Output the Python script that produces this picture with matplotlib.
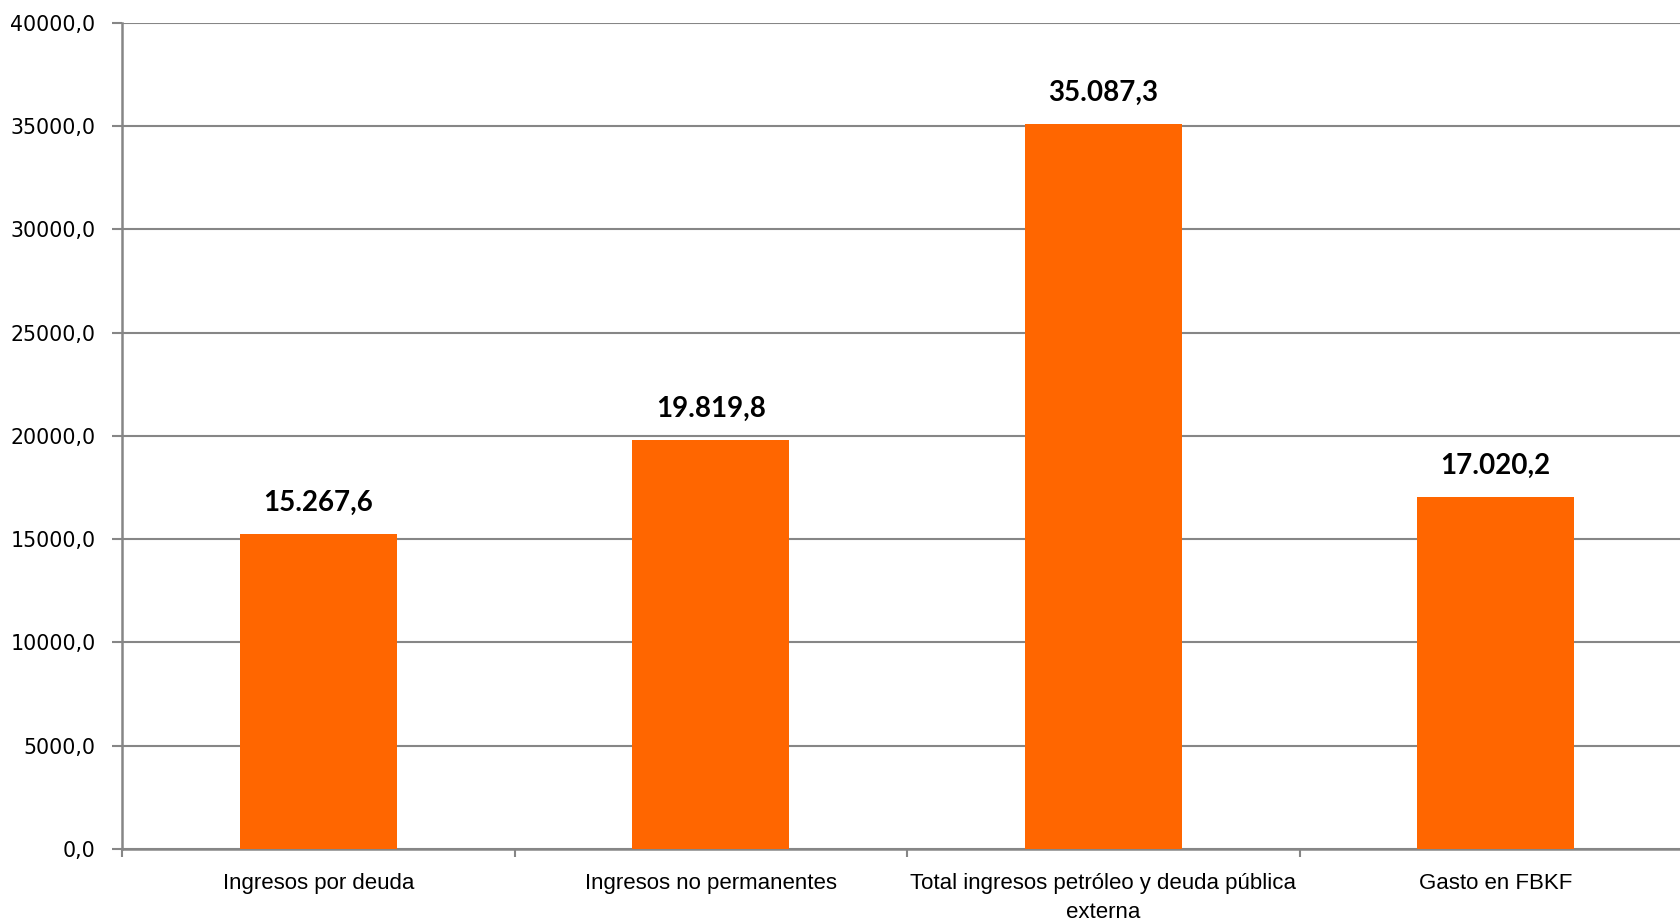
import matplotlib
matplotlib.use("Agg")
import matplotlib.pyplot as plt
from matplotlib import font_manager as fm

categories = ["Ingresos por deuda", "Ingresos no permanentes",
              "Total ingresos petróleo y deuda pública\nexterna", "Gasto en FBKF"]
values = [15267.6, 19819.8, 35087.3, 17020.2]
value_labels = ["15.267,6", "19.819,8", "35.087,3", "17.020,2"]
yticks = [0, 5000, 10000, 15000, 20000, 25000, 30000, 35000, 40000]
ytick_labels = ["0,0", "5000,0", "10000,0", "15000,0", "20000,0", "25000,0",
                "30000,0", "35000,0", "40000,0"]

names = {f.name for f in fm.fontManager.ttflist}
narrow = "Liberation Sans Narrow" if "Liberation Sans Narrow" in names else "Liberation Sans"

fig = plt.figure(figsize=(16.8, 9.23), dpi=100)
W, H = 1680, 923
ax = fig.add_axes([122 / W, (H - 849) / H, 4 * 392.5 / W, (849 - 22.7) / H])

grid_c = "#868686"
x = list(range(len(categories)))
ax.bar(x, values, width=0.40, color="#FF6600", zorder=3)
ax.set_xlim(-0.5, len(categories) - 0.5)
ax.set_ylim(0, 40000)

ax.set_yticks(yticks)
ax.set_yticklabels(ytick_labels, fontfamily="DejaVu Sans", fontsize=14.8)
ax.yaxis.grid(True, color=grid_c, linewidth=1.5, zorder=0)
ax.tick_params(axis="y", length=7, width=1.5, color=grid_c, pad=12)

ax.set_xticks([i - 0.5 for i in range(len(categories) + 1)], minor=False)
ax.set_xticklabels([])
ax.set_xticks(x, minor=True)
ax.set_xticklabels(categories, minor=True, fontfamily=narrow, fontsize=16,
                   linespacing=1.55, va="top")
ax.tick_params(axis="x", which="major", length=6, width=1.5, color=grid_c)
ax.tick_params(axis="x", which="minor", length=0, pad=17)

for s in ["top", "right"]:
    ax.spines[s].set_visible(False)
for s in ["left", "bottom"]:
    ax.spines[s].set_color(grid_c)
    ax.spines[s].set_linewidth(1.8)

for xi, v, lab in zip(x, values, value_labels):
    ax.annotate(lab, (xi, v), xytext=(0, 13), textcoords="offset points",
                ha="center", va="bottom", fontfamily="Lato", fontweight="bold",
                fontsize=20, color="black")

fig.savefig("out.png", dpi=100)
